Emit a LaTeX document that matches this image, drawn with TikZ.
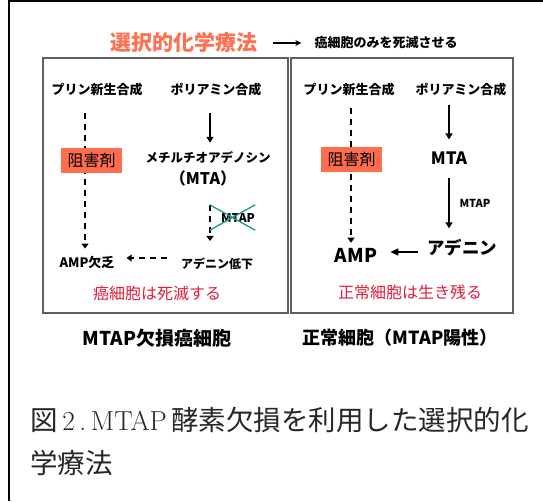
\documentclass[tikz,border=0pt]{standalone}
\usepackage{fontspec}
\newfontfamily\jp{Noto Sans CJK JP}
\usetikzlibrary{arrows.meta}
\definecolor{titleorange}{RGB}{255,112,80}
\definecolor{boxorange}{RGB}{255,108,78}
\definecolor{fatered}{RGB}{226,28,58}
\definecolor{crossteal}{RGB}{28,150,140}
\definecolor{framegray}{RGB}{95,95,95}

\tikzset{
	lbl/.style={font=\jp\bfseries\fontsize{13}{13}\selectfont, inner sep=1pt},
	inhib/.style={fill=boxorange, font=\jp\fontsize{16}{16}\selectfont, minimum width=61pt, minimum height=25pt, inner sep=0pt},
	fate/.style={font=\jp\fontsize{16}{16}\selectfont, text=fatered, inner sep=1pt},
	cellbox/.style={draw=framegray, line width=1.5pt},
	flow/.style={-{Triangle[length=6pt,width=7pt]}, line width=1.4pt},
	flowdash/.style={-{Triangle[length=5pt,width=7pt]}, line width=1.4pt, dash pattern=on 6pt off 5pt},
	crossmark/.style={draw=crossteal, line width=1.3pt}
}

\begin{document}
\begin{tikzpicture}[x=1pt, y=-1pt]
	\useasboundingbox (0,0) rectangle (543,501);
	% outer frame (top and left only)
	\draw[line width=2pt] (543,1) -- (8.5,1) -- (8.5,501);

	% title
	\node[font=\jp\bfseries\fontsize{21}{21}\selectfont, text=titleorange, inner sep=1pt] (title) at (184,42) {選択的化学療法};
	\node[lbl] (goal) at (386,43) {癌細胞のみを死滅させる};
	\draw[-{Stealth[length=6pt,width=6pt]}, line width=1.2pt] ([xshift=14pt,yshift=-1pt]title.east) -- ([xshift=-12pt]goal.west);

	% the two cells
	\draw[cellbox] (43,58) rectangle (288,313);
	\draw[cellbox] (291,58) rectangle (513,313);

	% MTAP-deficient cancer cell
	\node[lbl] (pur1) at (97,90) {プリン新生合成};
	\node[lbl] (pol1) at (216,90) {ポリアミン合成};
	\node[lbl, font=\jp\bfseries\fontsize{12.5}{12.5}\selectfont] (mta1) at (208,158) {メチルチオアデノシン};
	\node[lbl, font=\jp\bfseries\fontsize{16}{16}\selectfont] (mtab1) at (203,178) {（MTA）};
	\node[lbl, font=\jp\bfseries\fontsize{12}{12}\selectfont] (mtap1) at (238,218) {MTAP};
	\node[lbl] (amp1) at (87,262) {AMP欠乏};
	\node[lbl, font=\jp\bfseries\fontsize{12}{12}\selectfont] (ade1) at (217,264) {アデニン低下};
	\node[fate] (fate1) at (157,293) {癌細胞は死滅する};

	\draw[flowdash] ([xshift=-12pt,yshift=-15pt]pur1.south) -- ([xshift=-2pt,yshift=6pt]amp1.north);
	\draw[flow] ([xshift=-6pt,yshift=-15pt]pol1.south) -- ([xshift=2pt,yshift=8pt]mta1.north);
	\draw[flowdash] ([xshift=7pt,yshift=-18pt]mtab1.south) -- ([xshift=-7pt,yshift=16pt]ade1.north);
	\draw[flowdash] ([xshift=-13pt,yshift=6pt]ade1.west) -- ([xshift=11pt,yshift=4pt]amp1.east);

	\node[inhib] (inhib1) at (91.5,160.5) {阻害剤};
	\node[minimum width=45pt, minimum height=25pt, inner sep=0pt] (cross1) at (232.5,217.5) {};
	\draw[crossmark] (cross1.north west) -- (cross1.south east);
	\draw[crossmark] (cross1.south west) -- (cross1.north east);

	% normal cell
	\node[lbl] (pur2) at (349,90) {プリン新生合成};
	\node[lbl] (pol2) at (461,90) {ポリアミン合成};
	\node[lbl, font=\jp\bfseries\fontsize{17}{17}\selectfont] (mta2) at (449,158) {MTA};
	\node[lbl, font=\jp\bfseries\fontsize{11}{11}\selectfont] (mtap2) at (475,203) {MTAP};
	\node[lbl, font=\jp\bfseries\fontsize{19}{19}\selectfont] (amp2) at (356,255) {AMP};
	\node[lbl, font=\jp\bfseries\fontsize{17.5}{17.5}\selectfont] (ade2) at (462,248) {アデニン};
	\node[fate] (fate2) at (410,292) {正常細胞は生き残る};

	\draw[flowdash] ([xshift=2pt,yshift=-10pt]pur2.south) -- ([xshift=-5pt,yshift=4pt]amp2.north);
	\draw[flow] ([xshift=-12pt,yshift=-7pt]pol2.south) -- ([yshift=11pt]mta2.north);
	\draw[flow] ([yshift=-12pt]mta2.south) -- ([xshift=-13pt,yshift=10pt]ade2.north);
	\draw[flow, -{Triangle[length=8pt,width=7pt]}] ([xshift=-8pt,yshift=-4pt]ade2.west) -- ([xshift=12pt,yshift=3pt]amp2.east);

	\node[inhib] (inhib2) at (351.5,159) {阻害剤};

	% cell names
	\node[lbl, font=\jp\bfseries\fontsize{19}{19}\selectfont] (cell1) at (157,338) {MTAP欠損癌細胞};
	\node[lbl, font=\jp\bfseries\fontsize{18}{18}\selectfont] (cell2) at (400,338) {正常細胞（MTAP陽性）};

	% caption
	\node[anchor=west, inner sep=0pt, text=black!85, font=\fontsize{27.5}{27.5}\selectfont] (cap1) at (30,420)
		{{\jp 図}\,2\,.\,MTAP\,{\jp 酵素欠損を利用した選択的化}};
	\node[anchor=west, inner sep=0pt, text=black!85, font=\jp\fontsize{27.5}{27.5}\selectfont] (cap2) at (30,463) {学療法};
\end{tikzpicture}
\end{document}
